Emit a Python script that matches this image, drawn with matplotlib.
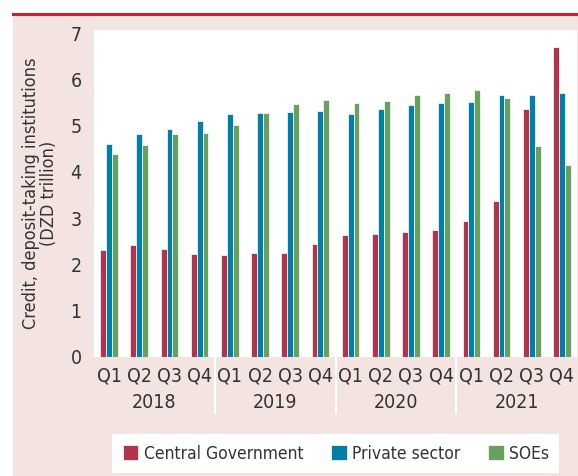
import numpy as np
import matplotlib
matplotlib.use("Agg")
from matplotlib import pyplot as plt
from matplotlib.patches import Rectangle
from matplotlib.lines import Line2D

plt.rcParams['font.family'] = ['DejaVu Sans']
plt.rcParams['font.stretch'] = 'condensed'

quarters = ['Q1', 'Q2', 'Q3', 'Q4'] * 4
years = ['2018', '2019', '2020', '2021']

central_gov = [2.31, 2.42, 2.34, 2.22, 2.21, 2.24, 2.25, 2.45,
               2.64, 2.66, 2.71, 2.74, 2.93, 3.38, 5.35, 6.69]
private_sector = [4.61, 4.81, 4.92, 5.10, 5.24, 5.28, 5.30, 5.32,
                  5.26, 5.35, 5.44, 5.49, 5.51, 5.65, 5.65, 5.71]
soes = [4.39, 4.57, 4.82, 4.83, 5.02, 5.28, 5.47, 5.55,
        5.48, 5.53, 5.66, 5.71, 5.76, 5.60, 4.56, 4.14]

red = '#B0344A'
blue = '#0080A9'
green = '#68A05F'
pink = '#F3E4E2'
textcol = '#333333'

fig = plt.figure(figsize=(5.78, 4.76), dpi=100)
fig.patch.set_facecolor('white')

# pink panel and red rule on top
fig.patches.append(Rectangle((13/578, 0), 1, (476-15)/476, transform=fig.transFigure,
                             facecolor=pink, edgecolor='none', zorder=-10))
fig.lines.append(Line2D([13/578, 1], [1-14/476, 1-14/476], transform=fig.transFigure,
                        color='#C8202E', linewidth=2.2))

ax = fig.add_axes([94/578, 1-357/476, 483/578, 327/476])
ax.set_zorder(1)
ax.set_facecolor('white')

x = np.arange(len(quarters))
w = 0.195
ax.bar(x - w, central_gov, w, color=red, edgecolor='white', linewidth=0.5, label='Central Government')
ax.bar(x, private_sector, w, color=blue, edgecolor='white', linewidth=0.5, label='Private sector')
ax.bar(x + w, soes, w, color=green, edgecolor='white', linewidth=0.5, label='SOEs')

ax.set_xlim(-0.5, 15.5)
ax.set_ylim(0, 7.065)
ax.set_yticks(range(0, 8))
ax.set_xticks(x)
ax.set_xticklabels(quarters)
for s in ax.spines.values():
    s.set_visible(False)
ax.tick_params(axis='both', length=0, labelsize=14, colors=textcol)
ax.tick_params(axis='y', pad=9)
ax.tick_params(axis='x', pad=7)

# year labels and separators
for i, yr in enumerate(years):
    ax.text(4*i + 1.5, -0.138, yr, transform=ax.get_xaxis_transform(),
            ha='center', va='center', fontsize=14, color=textcol)
for b in [3.5, 7.5, 11.5]:
    ax.plot([b, b], [0, -0.172], transform=ax.get_xaxis_transform(),
            color='white', linewidth=1.5, clip_on=False)

ax.set_ylabel('Credit, deposit-taking institutions\n(DZD trillion)', fontsize=13,
              color=textcol, linespacing=1.0, labelpad=9)

leg = fig.legend(loc='center', bbox_to_anchor=(0.581, 0.047), ncol=3, fontsize=12.5,
                 frameon=True, fancybox=False, framealpha=1, handlelength=0.9, handleheight=0.9,
                 handletextpad=0.3, columnspacing=1.6, borderpad=0.6, borderaxespad=0)
leg.get_frame().set_facecolor('white')
leg.get_frame().set_edgecolor('none')
for t in leg.get_texts():
    t.set_color(textcol)

fig.savefig('out.png', dpi=100)
